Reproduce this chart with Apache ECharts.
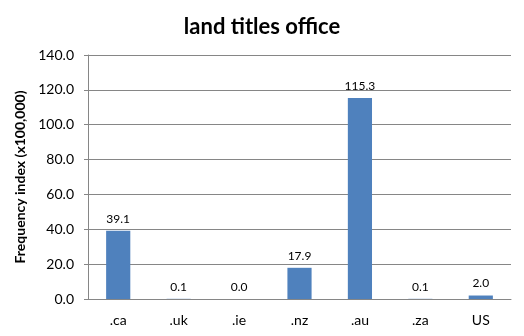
<!DOCTYPE html>
<html>
<head>
<meta charset="utf-8">
<script src="https://cdn.jsdelivr.net/npm/echarts@6/dist/echarts.min.js"></script>
<style>
  html, body { margin: 0; padding: 0; background: #fff; }
  #chart { width: 524px; height: 336px; }
</style>
</head>
<body>
<div id="chart"></div>
<script>
// Domain suffixes and their frequency index (x100,000)
const categories = ['.ca', '.uk', '.ie', '.nz', '.au', '.za', 'US'];
const frequency = [39.1, 0.1, 0.0, 17.9, 115.3, 0.1, 2.0];
const yTicks = { min: 0, max: 140, interval: 20 };

const font = 'Lato, "Open Sans", sans-serif';
const chart = echarts.init(document.getElementById('chart'));
chart.setOption({
  animation: false,
  title: {
    text: 'land titles office',
    left: 'center',
    top: 11,
    textStyle: { fontFamily: font, fontSize: 22, fontWeight: 'bold', color: '#000' }
  },
  grid: { left: 88, right: 13, top: 55, bottom: 37 },
  xAxis: {
    type: 'category',
    data: categories,
    axisLine: { lineStyle: { color: '#868686' } },
    axisTick: { show: false },
    axisLabel: { fontFamily: font, fontSize: 14, color: '#000', margin: 14 }
  },
  yAxis: {
    type: 'value',
    min: yTicks.min,
    max: yTicks.max,
    interval: yTicks.interval,
    name: 'Frequency index (x100,000)',
    nameLocation: 'middle',
    nameGap: 57,
    nameTextStyle: { fontFamily: font, fontSize: 14, fontWeight: 'bold', color: '#000' },
    axisLine: { show: true, lineStyle: { color: '#868686' } },
    axisTick: { show: true, length: 4, lineStyle: { color: '#868686' } },
    splitLine: { lineStyle: { color: '#868686' } },
    axisLabel: {
      fontFamily: font, fontSize: 14, color: '#000', margin: 14,
      formatter: v => v.toFixed(1)
    }
  },
  series: [{
    type: 'bar',
    data: frequency,
    barWidth: '40%',
    itemStyle: { color: '#4f81bd' },
    label: {
      show: true,
      position: 'top',
      distance: 6,
      fontFamily: font,
      fontSize: 12,
      color: '#000',
      formatter: p => p.value.toFixed(1)
    }
  }]
});
</script>
</body>
</html>
